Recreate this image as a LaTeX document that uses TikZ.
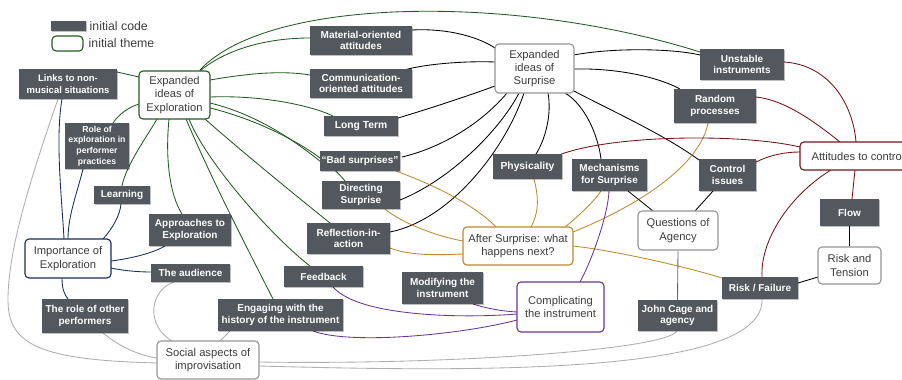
\documentclass[tikz,border=0pt]{standalone}
\usepackage{fontspec}
\setmainfont{Liberation Sans}
\usetikzlibrary{backgrounds,shadows}
\definecolor{codegray}{RGB}{83,87,94}
\definecolor{cgreen}{RGB}{34,92,34}
\definecolor{cnavy}{RGB}{22,45,95}
\definecolor{cgold}{RGB}{186,138,48}
\definecolor{cpurple}{RGB}{105,55,145}
\definecolor{cred}{RGB}{115,20,25}
\definecolor{clight}{RGB}{175,175,175}
\definecolor{cthemegray}{RGB}{150,150,150}
\definecolor{cthemetext}{RGB}{62,62,62}
\definecolor{cmid}{RGB}{100,100,100}
\tikzset{
  sz/.style 2 args={minimum width=#1pt, minimum height=#2pt},
  code/.style={fill=codegray, text=white, align=center, inner sep=0pt,
    font=\bfseries\fontsize{10}{11.5}\selectfont,
    drop shadow={shadow xshift=0.7pt, shadow yshift=-0.7pt, opacity=0.25, fill=black}},
  theme/.style={draw=#1, fill=white, line width=1.1pt, rounded corners=4pt,
    text=cthemetext, align=center, inner sep=0pt,
    font=\fontsize{11.2}{13.3}\selectfont},
  link/.style={draw=#1, line width=0.85pt},
  legtext/.style={anchor=west, inner sep=0pt, text=cthemetext, font=\fontsize{12.3}{14}\selectfont}
}
\begin{document}
\begin{tikzpicture}[x=1pt,y=1pt]
\useasboundingbox (0,0) rectangle (902,-380);
% legend
\node[code, sz={35}{10}] (legc) at (68.5,-26) {};
\node[legtext] (legctext) at (89.5,-26) {initial code};
\node[theme=cgreen, sz={31}{15}] (legt) at (67.5,-43.5) {};
\node[legtext] (legttext) at (88.5,-43.5) {initial theme};
% themes
\node[theme=cgreen, sz={71}{48}] (expl) at (174.5,-95) {Expanded\\ideas of\\Exploration};
\node[theme=cnavy, sz={86}{39}] (imp) at (68,-258.5) {Importance of\\Exploration};
\node[theme=cthemegray, sz={102}{38}] (social) at (208,-360) {Social aspects of\\improvisation};
\node[theme=cpurple, sz={87}{50}] (compl) at (560.5,-307) {Complicating\\the instrument};
\node[theme=cthemegray, sz={79}{49}] (surp) at (534.5,-68.5) {Expanded\\ideas of\\Surprise};
\node[theme=cgold, sz={110}{38}] (after) at (518,-246) {After Surprise: what\\happens next?};
\node[theme=cthemegray, sz={80}{39}] (agency) at (678,-230.5) {Questions of\\Agency};
\node[theme=cred, sz={116}{28}] (attit) at (858,-156) {Attitudes to control};
\node[theme=cthemegray, sz={63}{37}] (rtens) at (849.5,-265.5) {Risk and\\Tension};
% codes
\node[code, sz={98}{30}, font=\bfseries\fontsize{9.5}{11.5}\selectfont] (links) at (68,-84) {Links to non-\\musical situations};
\node[code, sz={64}{46}, font=\bfseries\fontsize{8.7}{10.8}\selectfont] (role) at (97,-146) {Role of\\exploration in\\performer\\practices};
\node[code, sz={56}{18}] (learn) at (122,-195) {Learning};
\node[code, sz={82}{32}] (appr) at (190,-230) {Approaches to\\Exploration};
\node[code, sz={79}{18}] (aud) at (190.5,-273) {The audience};
\node[code, sz={86}{34}] (other) at (85,-316) {The role of other\\performers};
\node[code, sz={125}{32}] (engag) at (280.5,-315) {Engaging with the\\history of the instrument};
\node[code, sz={79}{21}] (feed) at (323.5,-276.5) {Feedback};
\node[code, sz={81}{32}] (modif) at (442.5,-288) {Modifying the\\instrument};
\node[code, sz={83}{31}] (refl) at (348.5,-238.5) {Reflection-in-\\action};
\node[code, sz={78}{28}] (direct) at (361,-195) {Directing\\Surprise};
\node[code, sz={80}{20}] (bad) at (360,-161) {“Bad surprises”};
\node[code, sz={74}{20}, font=\bfseries\fontsize{10.3}{11.5}\selectfont] (long) at (361,-126) {Long Term};
\node[code, sz={102}{29}] (comm) at (361,-83.5) {Communication-\\oriented attitudes};
\node[code, sz={102}{29}] (mat) at (361,-40.5) {Material-oriented\\attitudes};
\node[code, sz={69}{25}, font=\bfseries\fontsize{10.3}{11.5}\selectfont] (phys) at (527.5,-166.5) {Physicality};
\node[code, sz={75}{32}] (mech) at (609.5,-175) {Mechanisms\\for Surprise};
\node[code, sz={57}{32}] (ctrl) at (727.5,-175) {Control\\issues};
\node[code, sz={82}{34}] (rand) at (715,-106) {Random\\processes};
\node[code, sz={84}{31}] (unst) at (742,-64.5) {Unstable\\instruments};
\node[code, sz={59}{27}] (flow) at (849.5,-212.5) {Flow};
\node[code, sz={76}{22}] (riskf) at (760,-288) {Risk / Failure};
\node[code, sz={79}{31}] (cage) at (677.5,-315.5) {John Cage and\\agency};
\coordinate (s1mid) at (8,-300);
\begin{scope}[on background layer]
\fill[white] (0,0) rectangle (902,-380);
% green
\draw[link=cgreen] ([shift={(-35.5,18)}]expl.center) -- ([shift={(49,12)}]links.center);
\draw[link=cgreen] ([shift={(-35.5,-9)}]expl.center) .. controls (129,-107) and (119,-114) .. ([shift={(16,23)}]role.center);
\draw[link=cgreen] ([shift={(-17.5,-24)}]expl.center) .. controls (148,-135) and (126,-165) .. ([shift={(0,9)}]learn.center);
\draw[link=cgreen] ([shift={(-5.5,-24)}]expl.center) .. controls (165,-160) and (170,-195) .. ([shift={(-8,16)}]appr.center);
\draw[link=cgreen] ([shift={(11.5,-24)}]expl.center) .. controls (212,-180) and (243,-240) .. ([shift={(-7.5,16)}]engag.center);
\draw[link=cgreen] ([shift={(14.5,-24)}]expl.center) .. controls (205,-160) and (270,-235) .. ([shift={(-13.5,10.5)}]feed.center);
\draw[link=cgreen] ([shift={(30.5,-24)}]expl.center) .. controls (240,-150) and (295,-195) .. ([shift={(-18.5,15.5)}]refl.center);
\draw[link=cgreen] ([shift={(35.5,-13)}]expl.center) .. controls (260,-120) and (320,-150) .. ([shift={(-16,14)}]direct.center);
\draw[link=cgreen] ([shift={(35.5,-8)}]expl.center) .. controls (260,-115) and (300,-145) .. ([shift={(-39,-1)}]bad.center);
\draw[link=cgreen] ([shift={(35.5,-2)}]expl.center) .. controls (260,-95) and (310,-105) .. ([shift={(-28,10)}]long.center);
\draw[link=cgreen] ([shift={(35.5,15)}]expl.center) .. controls (245,-74) and (280,-70) .. ([shift={(-51,8.5)}]comm.center);
\draw[link=cgreen] ([shift={(25.5,24)}]expl.center) .. controls (225,-50) and (265,-38) .. ([shift={(-51,2.5)}]mat.center);
\draw[link=cgreen] ([shift={(25.5,25)}]expl.center) .. controls (270,5) and (520,5) .. ([shift={(-42,12.5)}]unst.center);
% navy
\draw[link=cnavy] ([shift={(-4,19.5)}]imp.center) .. controls (62,-200) and (55,-140) .. ([shift={(-6,-15)}]links.center);
\draw[link=cnavy] ([shift={(0,19.5)}]imp.center) .. controls (68,-215) and (78,-190) .. ([shift={(-14,-23)}]role.center);
\draw[link=cnavy] ([shift={(35,19.5)}]imp.center) .. controls (113,-228) and (120,-215) .. ([shift={(-1,-9)}]learn.center);
\draw[link=cnavy] ([shift={(43,-2.5)}]imp.center) .. controls (135,-258) and (155,-252) .. ([shift={(-25,-16)}]appr.center);
\draw[link=cnavy] ([shift={(43,-9.5)}]imp.center) .. controls (125,-271) and (140,-272) .. ([shift={(-39.5,1)}]aud.center);
\draw[link=cnavy] ([shift={(-6,-19.5)}]imp.center) .. controls (62,-290) and (65,-295) .. ([shift={(-17,17)}]other.center);
% light gray
\draw[link=clight] ([shift={(-51,-3)}]social.center) .. controls (40,-360) and (8,-345) .. (s1mid) .. controls (8,-250) and (30,-180) .. ([shift={(-10,-15)}]links.center);
\draw[link=clight] ([shift={(-36,19)}]social.center) .. controls (145,-325) and (150,-290) .. ([shift={(-16.5,-9)}]aud.center);
\draw[link=clight] ([shift={(12,19)}]social.center) -- ([shift={(-50.5,-16)}]engag.center);
\draw[link=clight] ([shift={(-51,2)}]social.center) .. controls (135,-355) and (115,-343) .. ([shift={(18,-17)}]other.center);
\draw[link=clight] ([shift={(51,-2)}]social.center) .. controls (450,-365) and (665,-350) .. ([shift={(-0.5,-15.5)}]cage.center);
\draw[link=clight] ([shift={(51,-6)}]social.center) .. controls (480,-372) and (765,-375) .. ([shift={(2,-11)}]riskf.center);
% black
\draw[link=black] ([shift={(-39.5,20.5)}]surp.center) .. controls (480,-38) and (450,-28) .. ([shift={(51,10.5)}]mat.center);
\draw[link=black] ([shift={(-39.5,6.5)}]surp.center) .. controls (470,-61) and (430,-63) .. ([shift={(43,13.5)}]comm.center);
\draw[link=black] ([shift={(-39.5,-17.5)}]surp.center) .. controls (465,-97) and (425,-110) .. ([shift={(37,8)}]long.center);
\draw[link=black] ([shift={(-27.5,-24.5)}]surp.center) .. controls (480,-125) and (440,-148) .. ([shift={(42,4)}]bad.center);
\draw[link=black] ([shift={(-15.5,-24.5)}]surp.center) .. controls (500,-130) and (450,-180) .. ([shift={(39,-5)}]direct.center);
\draw[link=black] ([shift={(-10.5,-24.5)}]surp.center) .. controls (505,-150) and (450,-220) .. ([shift={(41.5,6.5)}]refl.center);
\draw[link=black] ([shift={(13.5,-24.5)}]surp.center) .. controls (552,-115) and (545,-140) .. ([shift={(8.5,12.5)}]phys.center);
\draw[link=black] ([shift={(30.5,-24.5)}]surp.center) .. controls (585,-105) and (598,-135) .. ([shift={(-8.5,16)}]mech.center);
\draw[link=black] ([shift={(37.5,-21.5)}]surp.center) .. controls (610,-110) and (665,-135) .. ([shift={(-28.5,15)}]ctrl.center);
\draw[link=black] ([shift={(39.5,-0.5)}]surp.center) .. controls (620,-68) and (660,-78) .. ([shift={(-35,17)}]rand.center);
\draw[link=black] ([shift={(39.5,13.5)}]surp.center) .. controls (610,-48) and (670,-48) .. ([shift={(-42,9.5)}]unst.center);
% gold
\draw[link=cgold] ([shift={(-22,19)}]after.center) .. controls (470,-200) and (420,-180) .. ([shift={(36,-10)}]bad.center);
\draw[link=cgold] ([shift={(-55,5)}]after.center) .. controls (435,-236) and (400,-222) .. ([shift={(24,-14)}]direct.center);
\draw[link=cgold] ([shift={(-55,-8)}]after.center) .. controls (440,-255) and (410,-256) .. ([shift={(41.5,-9.5)}]refl.center);
\draw[link=cgold] ([shift={(13,19)}]after.center) .. controls (540,-210) and (538,-195) .. ([shift={(6.5,-12.5)}]phys.center);
\draw[link=cgold] ([shift={(47,19)}]after.center) .. controls (580,-215) and (595,-200) .. ([shift={(-8.5,-16)}]mech.center);
\draw[link=cgold] ([shift={(55,14)}]after.center) .. controls (640,-205) and (700,-165) .. ([shift={(-7,-17)}]rand.center);
\draw[link=cgold] ([shift={(55,0)}]after.center) .. controls (610,-250) and (680,-265) .. ([shift={(-38,10)}]riskf.center);
% purple
\draw[link=cpurple] ([shift={(19.5,25)}]compl.center) .. controls (592,-260) and (608,-215) .. ([shift={(-0.5,-16)}]mech.center);
\draw[link=cpurple] ([shift={(-43.5,-5)}]compl.center) .. controls (500,-311) and (485,-308) .. ([shift={(30.5,-16)}]modif.center);
\draw[link=cpurple] ([shift={(-43.5,-7)}]compl.center) .. controls (470,-318) and (360,-318) .. ([shift={(9.5,-10.5)}]feed.center);
\draw[link=cpurple] ([shift={(-43.5,-13)}]compl.center) .. controls (460,-335) and (350,-345) .. ([shift={(32.5,-16)}]engag.center);
% dark red
\draw[link=cred] ([shift={(-2,14)}]attit.center) .. controls (853,-105) and (830,-65) .. ([shift={(42,2.5)}]unst.center);
\draw[link=cred] ([shift={(-18,14)}]attit.center) .. controls (815,-122) and (785,-100) .. ([shift={(41,9)}]rand.center);
\draw[link=cred] ([shift={(-58,9)}]attit.center) .. controls (740,-133) and (610,-135) .. ([shift={(31.5,11.5)}]phys.center);
\draw[link=cred] ([shift={(-58,4)}]attit.center) .. controls (785,-152) and (770,-155) .. ([shift={(28.5,13)}]ctrl.center);
\draw[link=cred] ([shift={(-3,-14)}]attit.center) -- ([shift={(2.5,13.5)}]flow.center);
\draw[link=cred] ([shift={(-27,-14)}]attit.center) .. controls (790,-195) and (760,-240) .. ([shift={(2,11)}]riskf.center);
% others
\draw[link=black] ([shift={(-25,19.5)}]agency.center) -- ([shift={(18.5,-16)}]mech.center);
\draw[link=black] ([shift={(17,19.5)}]agency.center) -- ([shift={(-14.5,-16)}]ctrl.center);
\draw[link=cmid] (agency.south) -- (cage.north);
\draw[link=black] (rtens.north) -- (flow.south);
\draw[link=black] ([shift={(-31.5,-11.5)}]rtens.center) -- ([shift={(38,5)}]riskf.center);
\end{scope}
\end{tikzpicture}
\end{document}
